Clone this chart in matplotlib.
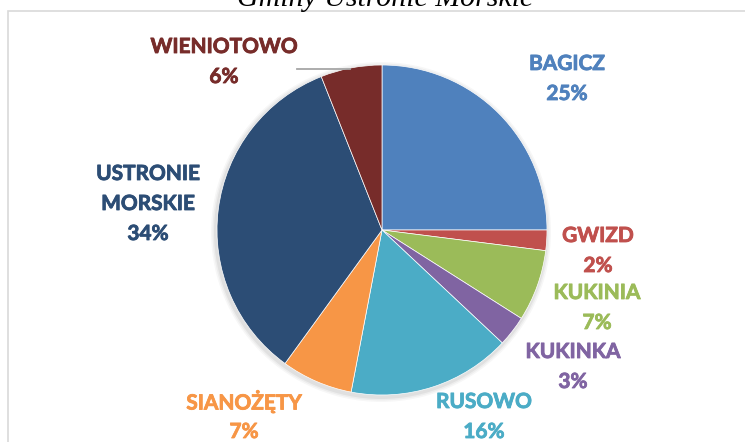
import matplotlib.pyplot as plt
import matplotlib.patheffects as pe
from matplotlib.patches import Circle, Rectangle

# Udział gmin (%)
names = ["BAGICZ", "GWIZD", "KUKINIA", "KUKINKA", "RUSOWO",
         "SIANOŻĘTY", "USTRONIE\nMORSKIE", "WIENIOTOWO"]
shares = [25, 2, 7, 3, 16, 7, 34, 6]
colors = ["#4F81BD", "#C0504D", "#9BBB59", "#8064A2", "#4BACC6",
          "#F79646", "#2C4D75", "#772C2A"]

W, H = 745, 442
fig = plt.figure(figsize=(W / 100, H / 100), dpi=100)
ax = fig.add_axes([0, 0, 1, 1])

cx, cy, r = 382, H - 230, 165

# soft shadow under the pie
for i, a in enumerate([0.05, 0.04, 0.03]):
    ax.add_patch(Circle((cx - 1, cy - 2), r + 2 + i * 1.5, color="#000000",
                        alpha=a, lw=0, zorder=0))

wedges, _ = ax.pie(shares, colors=colors, startangle=90, counterclock=False,
                   center=(cx, cy), radius=r,
                   wedgeprops=dict(edgecolor="white", linewidth=0.5))

ax.set_xlim(0, W)
ax.set_ylim(0, H)
ax.set_aspect("equal")
ax.axis("off")

# chart frame
ax.add_patch(Rectangle((8, -10), W, H - 11 + 10, fill=False,
                       edgecolor="#D9D9D9", lw=1.2, zorder=0))

# title (top part sits above the frame)
ax.text(385, H - 6, "Gminy Ustronie Morskie", ha="center", va="baseline",
        fontsize=21.5, style="italic", family="Liberation Serif")

# label positions (x, y of first line) in pixels from top-left
label_pos = [(567, 64), (598, 236), (597, 293), (573, 352),
             (484, 402), (244, 402), (148, 174), (224, 47)]
for name, v, c, (lx, ly) in zip(names, shares, colors, label_pos):
    lines = name.split("\n") + [f"{v}%"]
    for k, t in enumerate(lines):
        ax.text(lx, H - (ly + k * 30), t, ha="center", va="center",
                color=c, fontsize=15, fontweight="bold", family="Lato",
                path_effects=[pe.withStroke(linewidth=0.6, foreground=c)])

# leader line for the small top slice
ax.plot([297, 350], [H - 69, H - 69], color="#A6A6A6", lw=1.3, zorder=1)

fig.savefig("out.png", dpi=100)
